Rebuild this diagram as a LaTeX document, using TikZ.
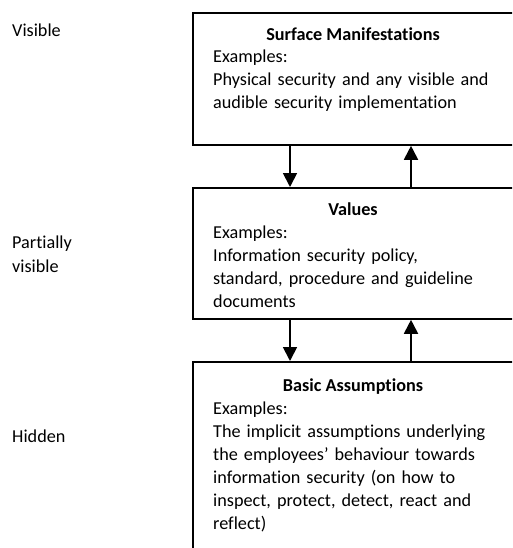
\documentclass[tikz,border=0pt]{standalone}
\usepackage{fontspec}
\setmainfont{Carlito}[Ligatures=NoCommon]
\usetikzlibrary{arrows.meta}
\begin{document}
\begin{tikzpicture}[x=1pt,y=-1pt,
  layer/.style={draw, line width=1.8pt, rectangle, anchor=north west, inner sep=0pt},
  title/.style={anchor=base, font=\fontsize{18.2}{23}\selectfont\bfseries, inner sep=0pt},
  body/.style={anchor=base west, align=left, text width=300pt, font=\fontsize{18.2}{23}\selectfont, inner sep=0pt},
  side/.style={anchor=base west, align=left, text width=120pt, font=\fontsize{18.2}{24}\selectfont, inner sep=0pt},
  flow/.style={line width=1.8pt, -{Triangle[width=14pt,length=14pt]}}]
\useasboundingbox (0,0) rectangle (512,548);
\clip (0,0) rectangle (512,548);

% the three layers (their right and lower sides run off the page)
\node[layer, minimum width=322pt, minimum height=132pt] (surface) at (192,12) {};
\node[layer, minimum width=322pt, minimum height=131pt] (values) at (192,187) {};
\node[layer, minimum width=322pt, minimum height=220pt] (basic) at (192,361) {};

% layer texts
\node[title] (t1) at (353,41) {Surface Manifestations};
\node[body] (b1) at (213,63) {Examples:\\Physical security and any visible and\\audible security implementation};
\node[title] (t2) at (353,215) {Values};
\node[body] (b2) at (213,238) {Examples:\\Information security policy,\\standard, procedure and guideline\\documents};
\node[title] (t3) at (353,391) {Basic Assumptions};
\node[body] (b3) at (213,414) {Examples:\\The implicit assumptions underlying\\the employees’ behaviour towards\\information security (on how to\\inspect, protect, detect, react and\\reflect)};

% visibility labels
\node[side] (vis) at (12,37) {Visible};
\node[side] (part) at (12,248) {Partially\\visible};
\node[side] (hid) at (12,442) {Hidden};

% connectors between layers
\coordinate (lc) at (290,0);
\coordinate (rc) at (411,0);
\draw[flow] (surface.south -| lc) -- (values.north -| lc);
\draw[flow] (values.north -| rc) -- (surface.south -| rc);
\draw[flow] (values.south -| lc) -- (basic.north -| lc);
\draw[flow] (basic.north -| rc) -- (values.south -| rc);
\end{tikzpicture}
\end{document}
